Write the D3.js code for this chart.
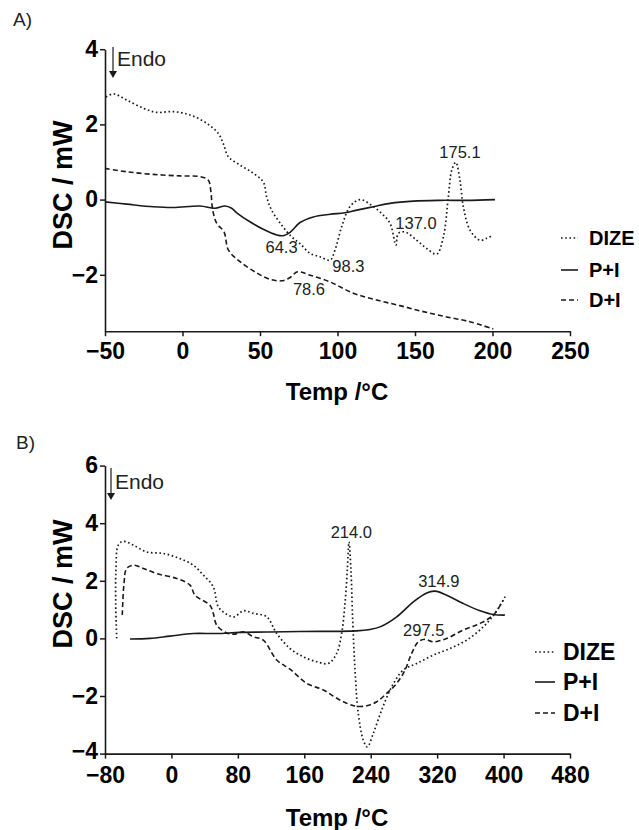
<!DOCTYPE html>
<html>
<head>
<meta charset="utf-8">
<script src="https://cdn.jsdelivr.net/npm/d3@7"></script>
<style>
  html, body { margin: 0; padding: 0; background: #fff; }
  svg { display: block; font-family: "Liberation Sans", Arial, sans-serif; }
</style>
</head>
<body>
<svg id="chart" width="639" height="830"></svg>
<script>
// ---------- Panel A data (Temp °C, DSC mW) ----------
const seriesNames = ["DIZE", "P+I", "D+I"];
const xTicksA = [-50, 0, 50, 100, 150, 200, 250];
const yTicksA = [-2, 0, 2, 4];
const xTicksB = [-80, 0, 80, 160, 240, 320, 400, 480];
const yTicksB = [-4, -2, 0, 2, 4, 6];

const dizeA = [
  [-49.4, 2.73], [-44.6, 2.81], [-36, 2.65], [-25.3, 2.43], [-16.7, 2.32], [-5.9, 2.34],
  [4.8, 2.25], [15.6, 2.03], [23.1, 1.76], [26.3, 1.49], [29.6, 1.14], [37.1, 0.92],
  [45.7, 0.70], [52.1, 0.47], [54.3, 0.07], [57.5, -0.28], [64, -0.68], [70.4, -0.99],
  [75.8, -1.17], [82.3, -1.43], [88.7, -1.52], [95.2, -1.61], [98.4, -1.34],
  [102.7, -0.72], [108, -0.19], [114.5, 0.0], [122, -0.15], [128.5, -0.37], [133.9, -0.63],
  [137.7, -1.21], [139.2, -0.90], [143.5, -0.86], [151.1, -1.08], [157.5, -1.30],
  [164, -1.45], [168.3, -0.99], [171.5, 0.07], [173.7, 0.78], [176.3, 0.99], [179, 0.52],
  [181.2, -0.19], [185.5, -0.81], [191.9, -1.08], [196.3, -1.03], [200.5, -0.94]
];
const piA = [
  [-50, -0.06], [-36, -0.12], [-18.8, -0.19], [-5.9, -0.21], [11.3, -0.17], [21, -0.23],
  [27.4, -0.17], [31.7, -0.23], [35, -0.35], [43.5, -0.59], [52.1, -0.79], [60.8, -0.94],
  [65, -0.96], [69.4, -0.87], [75.8, -0.61], [84.4, -0.46], [95.2, -0.39], [104.8, -0.35],
  [112.4, -0.28], [123.1, -0.19], [133.9, -0.10], [148.9, -0.04], [166.1, -0.02],
  [183.4, -0.02], [201.6, 0.0]
];
const diA = [
  [-50, 0.83], [-36, 0.74], [-18.8, 0.67], [-1.6, 0.63], [11.3, 0.61], [16.6, 0.52],
  [18.2, 0.25], [19.5, -0.28], [22.1, -0.63], [26.8, -0.86], [29.6, -1.34], [37.1, -1.65],
  [47.9, -1.95], [56.5, -2.12], [64, -2.16], [69.4, -2.07], [74.2, -1.92], [82.3, -2.01],
  [95.2, -2.19], [110.2, -2.49], [125.3, -2.67], [140.3, -2.82], [155.4, -2.98],
  [170.5, -3.12], [185.5, -3.25], [200.5, -3.44]
];
const peaksA = [
  { label: "175.1", t: 179, v: 1.10 },
  { label: "64.3", t: 63.9, v: -1.41 },
  { label: "98.3", t: 107, v: -1.93 },
  { label: "78.6", t: 81.6, v: -2.54 },
  { label: "137.0", t: 150.6, v: -0.78 }
];

// ---------- Panel B data ----------
const dizeB = [
  [-65.9, 0], [-67.1, 1.21], [-66.8, 2.37], [-64, 3.24], [-58, 3.37], [-45.9, 3.24],
  [-29.8, 3.00], [-9.8, 2.95], [10.3, 2.77], [26.3, 2.54], [38.4, 2.20], [50.4, 1.79],
  [56.4, 1.10], [66.5, 0.84], [75.7, 0.75], [86.5, 0.96], [98.6, 0.87], [114.7, 0.75],
  [126.8, 0.17], [142.8, -0.35], [158.8, -0.64], [174.9, -0.81], [188.9, -0.87],
  [199, -0.52], [205, 0.17], [209, 1.21], [211.8, 2.37], [213.8, 3.35], [216.2, 2.37],
  [218.3, 0.63], [221.1, -1.10], [225, -2.60], [231, -3.53], [235.9, -3.77], [243.1, -3.30],
  [253.2, -2.49], [265.3, -1.68], [279.2, -1.10], [295.4, -0.87], [315.4, -0.58],
  [335.5, -0.35], [355.6, -0.06], [375.6, 0.40], [389.7, 0.87], [402.9, 1.50]
];
const piB = [
  [-49.9, -0.02], [-25.8, 0], [-1.7, 0.08], [26.3, 0.17], [54.5, 0.17], [82.6, 0.21],
  [114.7, 0.22], [154.8, 0.24], [223.1, 0.26], [239.1, 0.31], [251.2, 0.40], [271.3, 0.75],
  [291.3, 1.27], [307.4, 1.58], [317.4, 1.64], [331.5, 1.50], [351.5, 1.21], [371.6, 0.96],
  [387.6, 0.83], [401.7, 0.81]
];
const diB = [
  [-59.2, 0.81], [-57.1, 1.91], [-53.9, 2.43], [-45.9, 2.54], [-33.9, 2.43], [-17.7, 2.25],
  [6.3, 2.08], [22.4, 1.85], [28.4, 1.50], [46.4, 1.15], [50.4, 0.87], [54.5, 0.46],
  [66.5, 0.19], [76.5, 0.15], [86.5, 0.23], [98.6, 0.06], [110.6, -0.06], [126.8, -0.75],
  [142.8, -1.07], [162.9, -1.56], [182.9, -1.79], [203, -2.14], [221.1, -2.35],
  [235.2, -2.34], [247.2, -2.20], [259.2, -1.91], [271.3, -1.56], [281.3, -1.10],
  [289.3, -0.52], [297.3, -0.12], [305.4, -0.03], [315.4, -0.12], [331.5, 0],
  [351.5, 0.29], [371.6, 0.52], [387.6, 0.81], [399.6, 1.33]
];
const peaksB = [
  { label: "214.0", t: 216.6, v: 3.48 },
  { label: "314.9", t: 322, v: 1.79 },
  { label: "297.5", t: 303.8, v: 0.08 }
];

// ---------- drawing ----------
const svg = d3.select("#chart");
const ink = "#1a1a1a";
const styles = [
  { dash: "1.6,2.6", width: 1.7 },   // DIZE dotted
  { dash: null, width: 1.6 },        // P+I solid
  { dash: "5,3", width: 1.6 }        // D+I dashed
];

function panel(cfg) {
  const x = d3.scaleLinear().domain(cfg.xDomain).range([105, 570]);
  const y = d3.scaleLinear().domain(cfg.yDomain).range(cfg.yRange);
  const g = svg.append("g");

  // axes
  const xa = g.append("g").attr("transform", `translate(0,${cfg.yRange[0]})`)
    .call(d3.axisBottom(x).tickValues(cfg.xTicks).tickSize(5).tickSizeOuter(0).tickPadding(cfg.xPad).tickFormat(d3.format("d")));
  const ya = g.append("g").attr("transform", `translate(105,0)`)
    .call(d3.axisLeft(y).tickValues(cfg.yTicks).tickSize(5).tickSizeOuter(0).tickPadding(2).tickFormat(d3.format("d")));
  [xa, ya].forEach(a => {
    a.selectAll("path.domain").attr("stroke", ink).attr("stroke-width", 1.6);
    a.selectAll(".tick line").attr("stroke", ink).attr("stroke-width", 1.5);
    a.selectAll(".tick text").attr("fill", "#000").style("font-size", "23px").style("font-weight", "bold")
      .style("font-family", "'Liberation Sans', Arial, sans-serif");
  });
  // lowest y tick label nudged up slightly so it does not collide with the first x tick label
  ya.selectAll(".tick text").filter(d => d === cfg.yDomain[0]).attr("dy", "0.22em");

  // lines
  const line = d3.line().x(d => x(d[0])).y(d => y(d[1])).curve(d3.curveCatmullRom.alpha(0.5));
  cfg.series.forEach((s, i) => {
    g.append("path").datum(s).attr("d", line).attr("fill", "none")
      .attr("stroke", ink).attr("stroke-width", styles[i].width)
      .attr("stroke-dasharray", styles[i].dash);
  });

  // peak labels
  g.selectAll("text.peak").data(cfg.peaks).join("text").attr("class", "peak")
    .attr("x", d => x(d.t)).attr("y", d => y(d.v)).attr("text-anchor", "middle")
    .attr("fill", "#222").style("font-size", "16.5px").text(d => d.label);

  // Endo arrow
  g.append("line").attr("x1", cfg.endo.ax).attr("x2", cfg.endo.ax)
    .attr("y1", cfg.endo.y0).attr("y2", cfg.endo.y1 - 6).attr("stroke", ink).attr("stroke-width", 1.2);
  g.append("path").attr("d", `M${cfg.endo.ax - 4},${cfg.endo.y1 - 7}L${cfg.endo.ax + 4},${cfg.endo.y1 - 7}L${cfg.endo.ax},${cfg.endo.y1}Z`)
    .attr("fill", ink);
  g.append("text").attr("x", cfg.endo.ax + 4).attr("y", cfg.endo.tb).attr("fill", "#222")
    .style("font-size", "21px").text("Endo");

  // axis titles
  g.append("text").attr("x", 337).attr("y", cfg.xTitleY).attr("text-anchor", "middle")
    .style("font-size", "24px").style("font-weight", "bold").text("Temp /°C");
  g.append("text").attr("transform", `translate(${cfg.yTitleX},${cfg.yTitleC}) rotate(-90)`)
    .attr("text-anchor", "middle").style("font-size", "27px").style("font-weight", "bold").text("DSC / mW");

  // panel letter
  g.append("text").attr("x", cfg.letterX).attr("y", cfg.letterY).style("font-size", "19px")
    .attr("fill", "#222").text(cfg.letter);

  // legend
  const lg = g.append("g");
  seriesNames.forEach((n, i) => {
    const yy = cfg.legend.rows[i];
    lg.append("line").attr("x1", cfg.legend.x0).attr("x2", cfg.legend.x1).attr("y1", yy).attr("y2", yy)
      .attr("stroke", ink).attr("stroke-width", styles[i].width).attr("stroke-dasharray", styles[i].dash);
    lg.append("text").attr("x", cfg.legend.tx).attr("y", yy).attr("dy", "0.36em")
      .style("font-size", cfg.legend.fs + "px").style("font-weight", "bold").text(n);
  });
}

panel({
  xDomain: [-50, 250], yDomain: [-3.5, 4], yRange: [331.2, 49.2], xPad: 6,
  xTicks: xTicksA, yTicks: yTicksA, series: [dizeA, piA, diA], peaks: peaksA,
  endo: { ax: 113, y0: 47, y1: 78, tb: 66 },
  xTitleY: 400, yTitleX: 72, yTitleC: 185,
  letter: "A)", letterX: 13, letterY: 26,
  legend: { x0: 561, x1: 578, tx: 589, fs: 20, rows: [238, 270, 300] }
});

panel({
  xDomain: [-80, 480], yDomain: [-4, 6], yRange: [753.6, 465.6], xPad: 8,
  xTicks: xTicksB, yTicks: yTicksB, series: [dizeB, piB, diB], peaks: peaksB,
  endo: { ax: 111, y0: 468, y1: 500, tb: 489 },
  xTitleY: 826, yTitleX: 72, yTitleC: 584,
  letter: "B)", letterX: 16, letterY: 449,
  legend: { x0: 535, x1: 555, tx: 563, fs: 23, rows: [652, 682, 713] }
});
</script>
</body>
</html>
